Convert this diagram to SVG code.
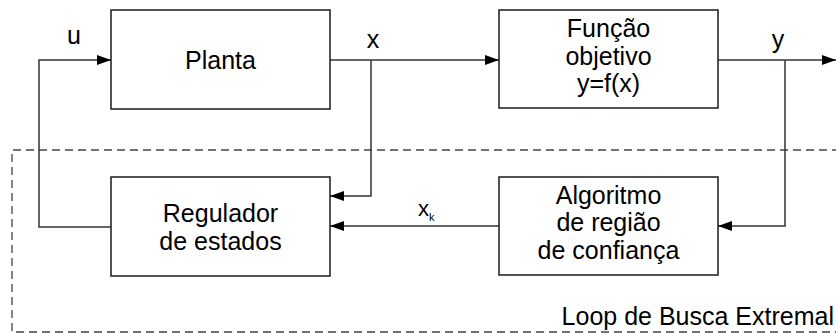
<svg xmlns="http://www.w3.org/2000/svg" width="836" height="333" viewBox="0 0 836 333">
  <style>
    .box { fill: #ffffff; stroke: #1a1a1a; stroke-width: 1.5; }
    .lbl { font-family: "Liberation Sans", Arial, sans-serif; font-size: 25px; fill: #000; text-anchor: middle; }
    .wire { fill: none; stroke: #333333; stroke-width: 1.5; }
    .frame { fill: none; stroke: #444444; stroke-width: 1.3; stroke-dasharray: 8 5; }
  </style>
  <defs>
    <marker id="arrow" viewBox="0 0 14 10" refX="14" refY="5" markerWidth="14" markerHeight="10" markerUnits="userSpaceOnUse" orient="auto">
      <path d="M0,0 L14,5 L0,10 Z" fill="#000"/>
    </marker>
  </defs>

  <rect width="836" height="333" fill="#ffffff"/>

  <!-- extremum-seeking loop boundary -->
  <g id="loop-frame">
    <path class="frame" d="M840,150 H12 V332 H840"/>
    <text class="lbl" x="834" y="325" style="text-anchor:end">Loop de Busca Extremal</text>
  </g>

  <!-- connectors -->
  <g id="connectors">
    <!-- u: regulator output back to plant input -->
    <path class="wire" d="M111,227 H39 V60 H111" marker-end="url(#arrow)"/>
    <!-- x: plant to objective function -->
    <path class="wire" d="M330,60 H499" marker-end="url(#arrow)"/>
    <!-- x fed to regulator -->
    <path class="wire" d="M371,60 V196 H330" marker-end="url(#arrow)"/>
    <!-- y output -->
    <path class="wire" d="M718,60 H836" marker-end="url(#arrow)"/>
    <!-- y fed to trust-region algorithm -->
    <path class="wire" d="M785,60 V226 H718" marker-end="url(#arrow)"/>
    <!-- x_k reference to regulator -->
    <path class="wire" d="M499,226 H330" marker-end="url(#arrow)"/>

    <text class="lbl" x="74" y="44">u</text>
    <text class="lbl" x="373" y="48">x</text>
    <text class="lbl" x="778" y="48">y</text>
    <text x="418" y="216" font-family="Liberation Sans, Arial, sans-serif" font-size="22" fill="#000">x<tspan font-size="11" dy="5">k</tspan></text>
  </g>

  <g id="planta">
    <rect class="box" x="111" y="10" width="219" height="99"/>
    <text class="lbl" x="220.5" y="69">Planta</text>
  </g>

  <g id="funcao-objetivo">
    <rect class="box" x="499" y="10" width="219" height="98"/>
    <text class="lbl" x="608.5" y="37">Função</text>
    <text class="lbl" x="608.5" y="64.5">objetivo</text>
    <text class="lbl" x="608.5" y="92">y=f(x)</text>
  </g>

  <g id="regulador">
    <rect class="box" x="111" y="177" width="219" height="99"/>
    <text class="lbl" x="220.5" y="222">Regulador</text>
    <text class="lbl" x="220.5" y="249.5">de estados</text>
  </g>

  <g id="algoritmo">
    <rect class="box" x="499" y="177" width="219" height="98"/>
    <text class="lbl" x="608.5" y="203.5">Algoritmo</text>
    <text class="lbl" x="608.5" y="231">de região</text>
    <text class="lbl" x="608.5" y="258.5">de confiança</text>
  </g>
</svg>
